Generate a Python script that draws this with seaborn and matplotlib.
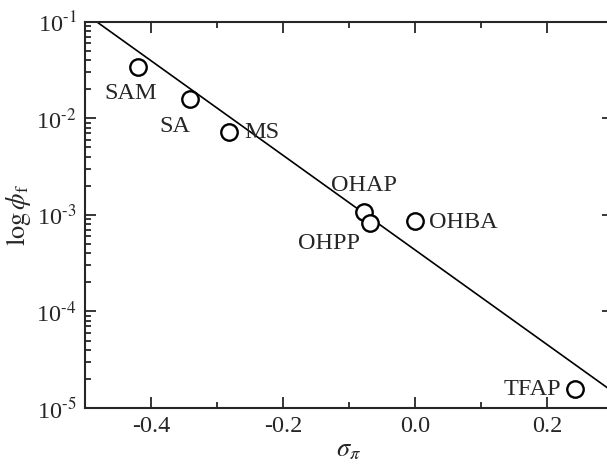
import math
import matplotlib
matplotlib.use('Agg')
import matplotlib.pyplot as plt
import matplotlib.ticker as mticker
import seaborn as sns
import pandas as pd

# compostos, sigma_pi e rendimento quântico
compostos = ['SAM', 'SA', 'MS', 'OHAP', 'OHPP', 'OHBA', 'TFAP']
sigma_pi = [-0.42, -0.341, -0.282, -0.077, -0.068, 0.0, 0.242]
phi_f = [0.0342, 0.0159, 0.0072, 1.07e-3, 8.3e-4, 8.7e-4, 1.57e-5]

# reta ajustada (extremos)
fit_sigma = [-0.482, 0.30]
fit_phi = [0.1, 1.47e-5]

# posição dos rótulos (deslocamento em pontos, alinhamento)
offsets = {
    'SAM': (-5, -19.5, 'center', 'center'),
    'SA': (-11, -19.5, 'center', 'center'),
    'MS': (11, 0, 'left', 'center'),
    'OHAP': (0, 19, 'center', 'center'),
    'OHPP': (-29.5, -15, 'center', 'center'),
    'OHBA': (10, -1, 'left', 'center'),
    'TFAP': (-10, 0, 'right', 'center'),
}

sns.set_style('ticks')
plt.rcParams['font.family'] = ['Liberation Serif', 'DejaVu Serif']
plt.rcParams['mathtext.fontset'] = 'stix'

df = pd.DataFrame({'composto': compostos, 'sigma': sigma_pi, 'phi': phi_f})
fit = pd.DataFrame({'sigma': fit_sigma, 'phi': fit_phi})

fig = plt.figure(figsize=(6.07, 4.72), dpi=100)
ax = fig.add_axes([0.140, 0.1356, 0.870, 0.818])

sns.lineplot(data=fit, x='sigma', y='phi', color='black', linewidth=1.2, ax=ax)
sns.scatterplot(data=df, x='sigma', y='phi', marker='o', s=140, facecolor='white',
                edgecolor='black', linewidth=1.7, zorder=3, ax=ax)

for _, r in df.iterrows():
    dx, dy, ha, va = offsets[r['composto']]
    ax.annotate(r['composto'], (r['sigma'], r['phi']), xytext=(dx, dy),
                textcoords='offset points', ha=ha, va=va, fontsize=17.5)

ax.set_yscale('log')
ax.set_xlim(-0.5, 0.3)
ax.set_ylim(1e-5, 1e-1)
ax.set_xticks([-0.4, -0.2, 0.0, 0.2])
ax.set_xticklabels(['-0.4', '-0.2', '0.0', '0.2'])
ax.xaxis.set_minor_locator(mticker.MultipleLocator(0.1))
ax.yaxis.set_major_locator(mticker.LogLocator(base=10, numticks=10))
ax.yaxis.set_minor_locator(mticker.LogLocator(base=10, subs=range(2, 10), numticks=10))
ax.yaxis.set_minor_formatter(mticker.NullFormatter())
ax.yaxis.set_major_formatter(
    mticker.FuncFormatter(lambda v, p: r'10$^{\text{-}%d}$' % abs(round(math.log10(v)))))

ax.tick_params(which='both', direction='in', top=True, right=True, labelsize=17.5, width=1.3)
ax.tick_params(which='major', length=8, pad=6)
ax.tick_params(which='minor', length=4)
for s in ax.spines.values():
    s.set_linewidth(1.5)

ax.set_xlabel(r'$\sigma_{\pi}$', fontsize=19, labelpad=2)
ax.set_ylabel(r'$\log\phi_{\mathrm{f}}$', fontsize=19, labelpad=2)

fig.savefig('out.png', dpi=100)
